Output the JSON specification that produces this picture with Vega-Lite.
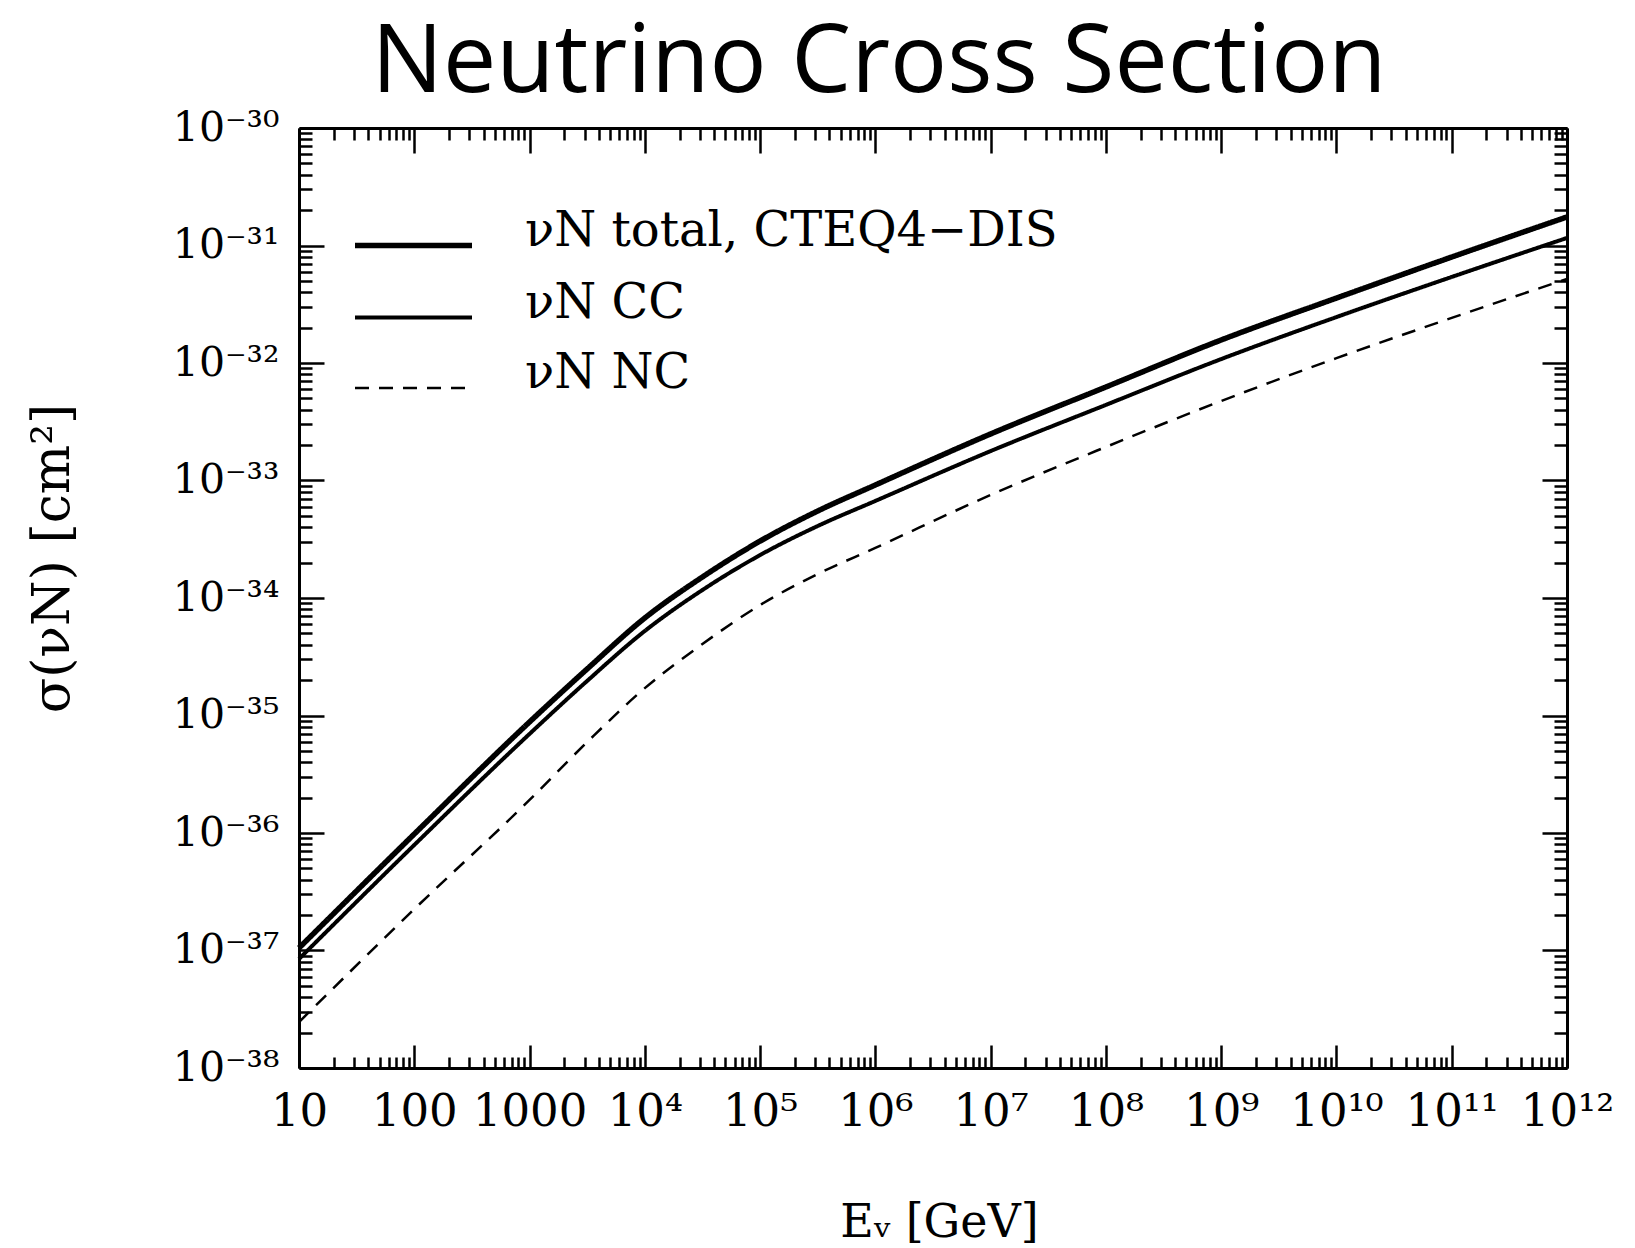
{
  "$schema": "https://vega.github.io/schema/vega-lite/v6.json",
  "autosize": {"type": "none"},
  "width": 1268,
  "height": 940,
  "padding": {"left": 299, "top": 128, "right": 68, "bottom": 180},
  "background": "white",
  "title": {
    "text": "Neutrino Cross Section",
    "font": "Open Sans",
    "fontSize": 95,
    "fontWeight": "normal",
    "color": "black",
    "anchor": "middle",
    "frame": "group",
    "baseline": "alphabetic",
    "offset": -80,
    "dx": -54
  },
  "config": {
    "view": {"stroke": null},
    "axis": {
      "grid": false,
      "domainColor": "black",
      "domainWidth": 3,
      "tickColor": "black",
      "tickWidth": 2.5,
      "labelColor": "black",
      "titleColor": "black",
      "labelFont": "DejaVu Serif",
      "titleFont": "DejaVu Serif",
      "titleFontWeight": "normal",
      "labelOverlap": false,
      "labelFlush": false,
      "labelBound": false
    },
    "legend": {"padding": 0, "labelFont": "DejaVu Serif", "labelColor": "black"}
  },
  "data": {
    "values": [
      {"E": 10, "s": 1.05e-37, "series": "νN total, CTEQ4−DIS"},
      {"E": 100, "s": 9.8e-37, "series": "νN total, CTEQ4−DIS"},
      {"E": 1000, "s": 8.81e-36, "series": "νN total, CTEQ4−DIS"},
      {"E": 3162, "s": 2.49e-35, "series": "νN total, CTEQ4−DIS"},
      {"E": 10000, "s": 6.76e-35, "series": "νN total, CTEQ4−DIS"},
      {"E": 31623, "s": 1.51e-34, "series": "νN total, CTEQ4−DIS"},
      {"E": 1e5, "s": 3.05e-34, "series": "νN total, CTEQ4−DIS"},
      {"E": 316228, "s": 5.5e-34, "series": "νN total, CTEQ4−DIS"},
      {"E": 1e6, "s": 9.16e-34, "series": "νN total, CTEQ4−DIS"},
      {"E": 1e7, "s": 2.49e-33, "series": "νN total, CTEQ4−DIS"},
      {"E": 1e8, "s": 6.25e-33, "series": "νN total, CTEQ4−DIS"},
      {"E": 1e9, "s": 1.57e-32, "series": "νN total, CTEQ4−DIS"},
      {"E": 1e10, "s": 3.57e-32, "series": "νN total, CTEQ4−DIS"},
      {"E": 1e11, "s": 7.98e-32, "series": "νN total, CTEQ4−DIS"},
      {"E": 1e12, "s": 1.75e-31, "series": "νN total, CTEQ4−DIS"},
      {"E": 10, "s": 8.47e-38, "series": "νN CC"},
      {"E": 100, "s": 7.91e-37, "series": "νN CC"},
      {"E": 1000, "s": 6.97e-36, "series": "νN CC"},
      {"E": 3162, "s": 1.97e-35, "series": "νN CC"},
      {"E": 10000, "s": 5.24e-35, "series": "νN CC"},
      {"E": 31623, "s": 1.17e-34, "series": "νN CC"},
      {"E": 1e5, "s": 2.32e-34, "series": "νN CC"},
      {"E": 316228, "s": 4.1e-34, "series": "νN CC"},
      {"E": 1e6, "s": 6.7e-34, "series": "νN CC"},
      {"E": 1e7, "s": 1.78e-33, "series": "νN CC"},
      {"E": 1e8, "s": 4.4e-33, "series": "νN CC"},
      {"E": 1e9, "s": 1.08e-32, "series": "νN CC"},
      {"E": 1e10, "s": 2.46e-32, "series": "νN CC"},
      {"E": 1e11, "s": 5.4e-32, "series": "νN CC"},
      {"E": 1e12, "s": 1.16e-31, "series": "νN CC"},
      {"E": 10, "s": 2.46e-38, "series": "νN NC"},
      {"E": 100, "s": 2.25e-37, "series": "νN NC"},
      {"E": 1000, "s": 1.91e-36, "series": "νN NC"},
      {"E": 3162, "s": 5.94e-36, "series": "νN NC"},
      {"E": 10000, "s": 1.71e-35, "series": "νN NC"},
      {"E": 31623, "s": 4.06e-35, "series": "νN NC"},
      {"E": 1e5, "s": 8.71e-35, "series": "νN NC"},
      {"E": 316228, "s": 1.6e-34, "series": "νN NC"},
      {"E": 1e6, "s": 2.67e-34, "series": "νN NC"},
      {"E": 1e7, "s": 7.53e-34, "series": "νN NC"},
      {"E": 1e8, "s": 1.93e-33, "series": "νN NC"},
      {"E": 1e9, "s": 4.75e-33, "series": "νN NC"},
      {"E": 1e10, "s": 1.1e-32, "series": "νN NC"},
      {"E": 1e11, "s": 2.42e-32, "series": "νN NC"},
      {"E": 1e12, "s": 5.19e-32, "series": "νN NC"}
    ]
  },
  "layer": [
    {
      "mark": {"type": "line", "interpolate": "monotone", "color": "black", "strokeCap": "butt"},
      "encoding": {
        "x": {
          "field": "E", "type": "quantitative",
          "scale": {"type": "log", "domain": [10, 1e12], "nice": false},
          "axis": {
            "orient": "bottom",
            "title": "Eᵥ [GeV]",
            "titleFontSize": 46,
            "titleX": 640,
            "titleY": 168,
            "titleAlign": "center",
            "titleBaseline": "alphabetic",
            "labelFontSize": 45,
            "labelBaseline": "alphabetic",
            "labelPadding": 80,
            "tickSize": {"condition": {"test": "abs(log(datum.value)/LN10 - round(log(datum.value)/LN10)) < 1e-6", "value": -23}, "value": -11},
            "values": [10,20,30,40,50,60,70,80,90,100,200,300,400,500,600,700,800,900,1000,2000,3000,4000,5000,6000,7000,8000,9000,1e4,2e4,3e4,4e4,5e4,6e4,7e4,8e4,9e4,1e5,2e5,3e5,4e5,5e5,6e5,7e5,8e5,9e5,1e6,2e6,3e6,4e6,5e6,6e6,7e6,8e6,9e6,1e7,2e7,3e7,4e7,5e7,6e7,7e7,8e7,9e7,1e8,2e8,3e8,4e8,5e8,6e8,7e8,8e8,9e8,1e9,2e9,3e9,4e9,5e9,6e9,7e9,8e9,9e9,1e10,2e10,3e10,4e10,5e10,6e10,7e10,8e10,9e10,1e11,2e11,3e11,4e11,5e11,6e11,7e11,8e11,9e11,1e12],
            "labelExpr": "abs(log(datum.value)/LN10 - round(log(datum.value)/LN10)) < 1e-6 ? ['1','10','100','1000','10⁴','10⁵','10⁶','10⁷','10⁸','10⁹','10¹⁰','10¹¹','10¹²'][round(log(datum.value)/LN10)] : ''"
          }
        },
        "y": {
          "field": "s", "type": "quantitative",
          "scale": {"type": "log", "domain": [1e-38, 1e-30], "nice": false},
          "axis": {
            "orient": "left",
            "title": "σ(νN) [cm²]",
            "titleFontSize": 52,
            "titleAngle": -90,
            "titleX": -247,
            "titleY": 430,
            "titleAlign": "center",
            "titleBaseline": "middle",
            "labelFontSize": 41,
            "labelPadding": 45,
            "tickSize": {"condition": {"test": "abs(log(datum.value)/LN10 - round(log(datum.value)/LN10)) < 1e-6", "value": -25}, "value": -13},
            "values": [1e-38,2e-38,3e-38,4e-38,5e-38,6e-38,7e-38,8e-38,9e-38,1e-37,2e-37,3e-37,4e-37,5e-37,6e-37,7e-37,8e-37,9e-37,1e-36,2e-36,3e-36,4e-36,5e-36,6e-36,7e-36,8e-36,9e-36,1e-35,2e-35,3e-35,4e-35,5e-35,6e-35,7e-35,8e-35,9e-35,1e-34,2e-34,3e-34,4e-34,5e-34,6e-34,7e-34,8e-34,9e-34,1e-33,2e-33,3e-33,4e-33,5e-33,6e-33,7e-33,8e-33,9e-33,1e-32,2e-32,3e-32,4e-32,5e-32,6e-32,7e-32,8e-32,9e-32,1e-31,2e-31,3e-31,4e-31,5e-31,6e-31,7e-31,8e-31,9e-31,1e-30],
            "labelExpr": "abs(log(datum.value)/LN10 - round(log(datum.value)/LN10)) < 1e-6 ? ['10⁻³⁸','10⁻³⁷','10⁻³⁶','10⁻³⁵','10⁻³⁴','10⁻³³','10⁻³²','10⁻³¹','10⁻³⁰'][round(log(datum.value)/LN10)+38] : ''"
          }
        },
        "strokeWidth": {
          "field": "series", "type": "nominal",
          "scale": {"domain": ["νN total, CTEQ4−DIS", "νN CC", "νN NC"], "range": [5.5, 2.5, 2.5]},
          "legend": {
            "title": null,
            "orient": "none",
            "legendX": 53,
            "legendY": 56,
            "symbolType": "stroke",
            "symbolSize": 13689,
            "symbolStrokeColor": "black",
            "rowPadding": -71,
            "labelOffset": 50,
            "labelFont": "DejaVu Serif",
            "labelFontSize": 48,
            "labelBaseline": "alphabetic",
            "labelColor": "black",
            "labelLimit": 1000
          }
        },
        "strokeDash": {
          "field": "series", "type": "nominal",
          "scale": {"domain": ["νN total, CTEQ4−DIS", "νN CC", "νN NC"], "range": [[1, 0], [1, 0], [14, 10]]},
          "legend": {
            "title": null,
            "orient": "none",
            "legendX": 53,
            "legendY": 56,
            "symbolType": "stroke",
            "symbolSize": 13689,
            "symbolStrokeColor": "black",
            "rowPadding": -71,
            "labelOffset": 50,
            "labelFont": "DejaVu Serif",
            "labelFontSize": 48,
            "labelBaseline": "alphabetic",
            "labelColor": "black",
            "labelLimit": 1000
          }
        }
      }
    },
    {
      "mark": {"type": "line", "opacity": 0},
      "encoding": {
        "x": {
          "field": "E", "type": "quantitative",
          "scale": {"type": "log", "domain": [10, 1e12], "nice": false},
          "axis": {
            "orient": "top",
            "title": null,
            "labels": false,
            "tickSize": {"condition": {"test": "abs(log(datum.value)/LN10 - round(log(datum.value)/LN10)) < 1e-6", "value": -25}, "value": -12},
            "values": [10,20,30,40,50,60,70,80,90,100,200,300,400,500,600,700,800,900,1000,2000,3000,4000,5000,6000,7000,8000,9000,1e4,2e4,3e4,4e4,5e4,6e4,7e4,8e4,9e4,1e5,2e5,3e5,4e5,5e5,6e5,7e5,8e5,9e5,1e6,2e6,3e6,4e6,5e6,6e6,7e6,8e6,9e6,1e7,2e7,3e7,4e7,5e7,6e7,7e7,8e7,9e7,1e8,2e8,3e8,4e8,5e8,6e8,7e8,8e8,9e8,1e9,2e9,3e9,4e9,5e9,6e9,7e9,8e9,9e9,1e10,2e10,3e10,4e10,5e10,6e10,7e10,8e10,9e10,1e11,2e11,3e11,4e11,5e11,6e11,7e11,8e11,9e11,1e12]
          }
        },
        "y": {
          "field": "s", "type": "quantitative",
          "scale": {"type": "log", "domain": [1e-38, 1e-30], "nice": false},
          "axis": {
            "orient": "right",
            "title": null,
            "labels": false,
            "tickSize": {"condition": {"test": "abs(log(datum.value)/LN10 - round(log(datum.value)/LN10)) < 1e-6", "value": -25}, "value": -13},
            "values": [1e-38,2e-38,3e-38,4e-38,5e-38,6e-38,7e-38,8e-38,9e-38,1e-37,2e-37,3e-37,4e-37,5e-37,6e-37,7e-37,8e-37,9e-37,1e-36,2e-36,3e-36,4e-36,5e-36,6e-36,7e-36,8e-36,9e-36,1e-35,2e-35,3e-35,4e-35,5e-35,6e-35,7e-35,8e-35,9e-35,1e-34,2e-34,3e-34,4e-34,5e-34,6e-34,7e-34,8e-34,9e-34,1e-33,2e-33,3e-33,4e-33,5e-33,6e-33,7e-33,8e-33,9e-33,1e-32,2e-32,3e-32,4e-32,5e-32,6e-32,7e-32,8e-32,9e-32,1e-31,2e-31,3e-31,4e-31,5e-31,6e-31,7e-31,8e-31,9e-31,1e-30]
          }
        },
        "detail": {"field": "series", "type": "nominal"}
      }
    }
  ],
  "resolve": {"axis": {"x": "independent", "y": "independent"}}
}
